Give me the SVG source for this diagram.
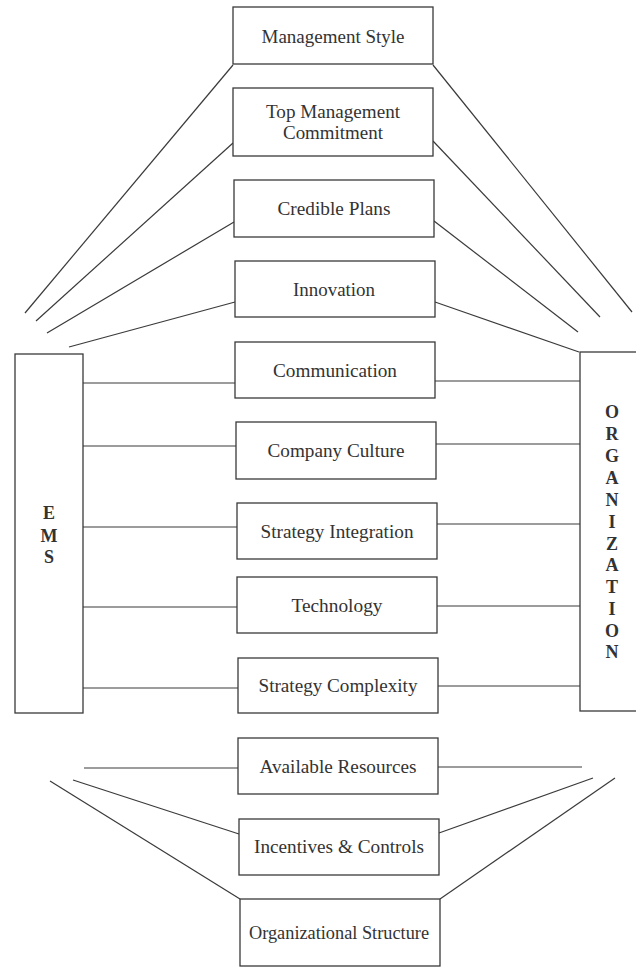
<svg xmlns="http://www.w3.org/2000/svg" width="636" height="968" viewBox="0 0 636 968">
<style>
.box{fill:#fff;stroke:#3a3a3a;stroke-width:1.3}
.lbl{font-family:"Liberation Serif","Times New Roman",serif;font-size:19px;fill:#333;text-anchor:middle}
.vl{font-family:"Liberation Serif","Times New Roman",serif;font-size:18px;font-weight:bold;fill:#333;text-anchor:middle}
#connectors line{stroke:#3a3a3a;stroke-width:1.2}
</style>
<rect width="636" height="968" fill="#fff"/>
<g id="connectors">
<line x1="233" y1="65" x2="25" y2="313"/>
<line x1="433" y1="65" x2="632" y2="312"/>
<line x1="233" y1="143" x2="36" y2="321"/>
<line x1="433" y1="141" x2="600" y2="317"/>
<line x1="234" y1="222" x2="47" y2="333"/>
<line x1="434" y1="221" x2="578" y2="332"/>
<line x1="235" y1="302" x2="69" y2="347"/>
<line x1="435" y1="302" x2="579" y2="352"/>
<line x1="82" y1="383" x2="235" y2="383"/>
<line x1="435" y1="381" x2="580" y2="381"/>
<line x1="82" y1="446" x2="236" y2="446"/>
<line x1="436" y1="444" x2="580" y2="444"/>
<line x1="83" y1="527" x2="237" y2="527"/>
<line x1="437" y1="524" x2="580" y2="524"/>
<line x1="83" y1="607" x2="237" y2="607"/>
<line x1="437" y1="606" x2="580" y2="606"/>
<line x1="83" y1="688" x2="238" y2="688"/>
<line x1="438" y1="686" x2="581" y2="686"/>
<line x1="84" y1="768" x2="238" y2="768"/>
<line x1="438" y1="767" x2="582" y2="767"/>
<line x1="73" y1="780" x2="239" y2="834"/>
<line x1="439" y1="833" x2="593" y2="778"/>
<line x1="50" y1="781" x2="240" y2="899"/>
<line x1="440" y1="899" x2="615" y2="778"/>
</g>
<g id="ems">
<rect class="box" x="15" y="354" width="68" height="359"/>
<text class="vl" x="49" y="519">E</text>
<text class="vl" x="49" y="542">M</text>
<text class="vl" x="49" y="563">S</text>
</g>
<g id="organization">
<rect class="box" x="580" y="352" width="60" height="359"/>
<text class="vl" x="612" y="418">O</text>
<text class="vl" x="612" y="440">R</text>
<text class="vl" x="612" y="462">G</text>
<text class="vl" x="612" y="484">A</text>
<text class="vl" x="612" y="506">N</text>
<text class="vl" x="612" y="528">I</text>
<text class="vl" x="612" y="550">Z</text>
<text class="vl" x="612" y="571">A</text>
<text class="vl" x="612" y="593">T</text>
<text class="vl" x="612" y="615">I</text>
<text class="vl" x="612" y="637">O</text>
<text class="vl" x="612" y="658">N</text>
</g>
<g id="management-style">
<rect class="box" x="233" y="7" width="200" height="57"/>
<text class="lbl" x="333" y="43" textLength="143" lengthAdjust="spacingAndGlyphs">Management Style</text>
</g>
<g id="top-management-commitment">
<rect class="box" x="233" y="88" width="200" height="68"/>
<text class="lbl" x="333" y="118" textLength="134" lengthAdjust="spacingAndGlyphs">Top Management</text>
<text class="lbl" x="333" y="139" textLength="100" lengthAdjust="spacingAndGlyphs">Commitment</text>
</g>
<g id="credible-plans">
<rect class="box" x="234" y="180" width="200" height="57"/>
<text class="lbl" x="334" y="215" textLength="113" lengthAdjust="spacingAndGlyphs">Credible Plans</text>
</g>
<g id="innovation">
<rect class="box" x="235" y="261" width="200" height="56"/>
<text class="lbl" x="334" y="296" textLength="82" lengthAdjust="spacingAndGlyphs">Innovation</text>
</g>
<g id="communication">
<rect class="box" x="235" y="342" width="200" height="56"/>
<text class="lbl" x="335" y="377" textLength="124" lengthAdjust="spacingAndGlyphs">Communication</text>
</g>
<g id="company-culture">
<rect class="box" x="236" y="422" width="200" height="57"/>
<text class="lbl" x="336" y="457" textLength="137" lengthAdjust="spacingAndGlyphs">Company Culture</text>
</g>
<g id="strategy-integration">
<rect class="box" x="237" y="503" width="200" height="56"/>
<text class="lbl" x="337" y="538" textLength="153" lengthAdjust="spacingAndGlyphs">Strategy Integration</text>
</g>
<g id="technology">
<rect class="box" x="237" y="577" width="200" height="56"/>
<text class="lbl" x="337" y="612" textLength="91" lengthAdjust="spacingAndGlyphs">Technology</text>
</g>
<g id="strategy-complexity">
<rect class="box" x="238" y="658" width="200" height="55"/>
<text class="lbl" x="338" y="692" textLength="159" lengthAdjust="spacingAndGlyphs">Strategy Complexity</text>
</g>
<g id="available-resources">
<rect class="box" x="238" y="738" width="200" height="56"/>
<text class="lbl" x="338" y="773" textLength="157" lengthAdjust="spacingAndGlyphs">Available Resources</text>
</g>
<g id="incentives-controls">
<rect class="box" x="239" y="819" width="200" height="56"/>
<text class="lbl" x="339" y="853" textLength="170" lengthAdjust="spacingAndGlyphs">Incentives &amp; Controls</text>
</g>
<g id="organizational-structure">
<rect class="box" x="240" y="899" width="200" height="67"/>
<text class="lbl" x="339" y="939" textLength="180" lengthAdjust="spacingAndGlyphs">Organizational Structure</text>
</g>
</svg>
